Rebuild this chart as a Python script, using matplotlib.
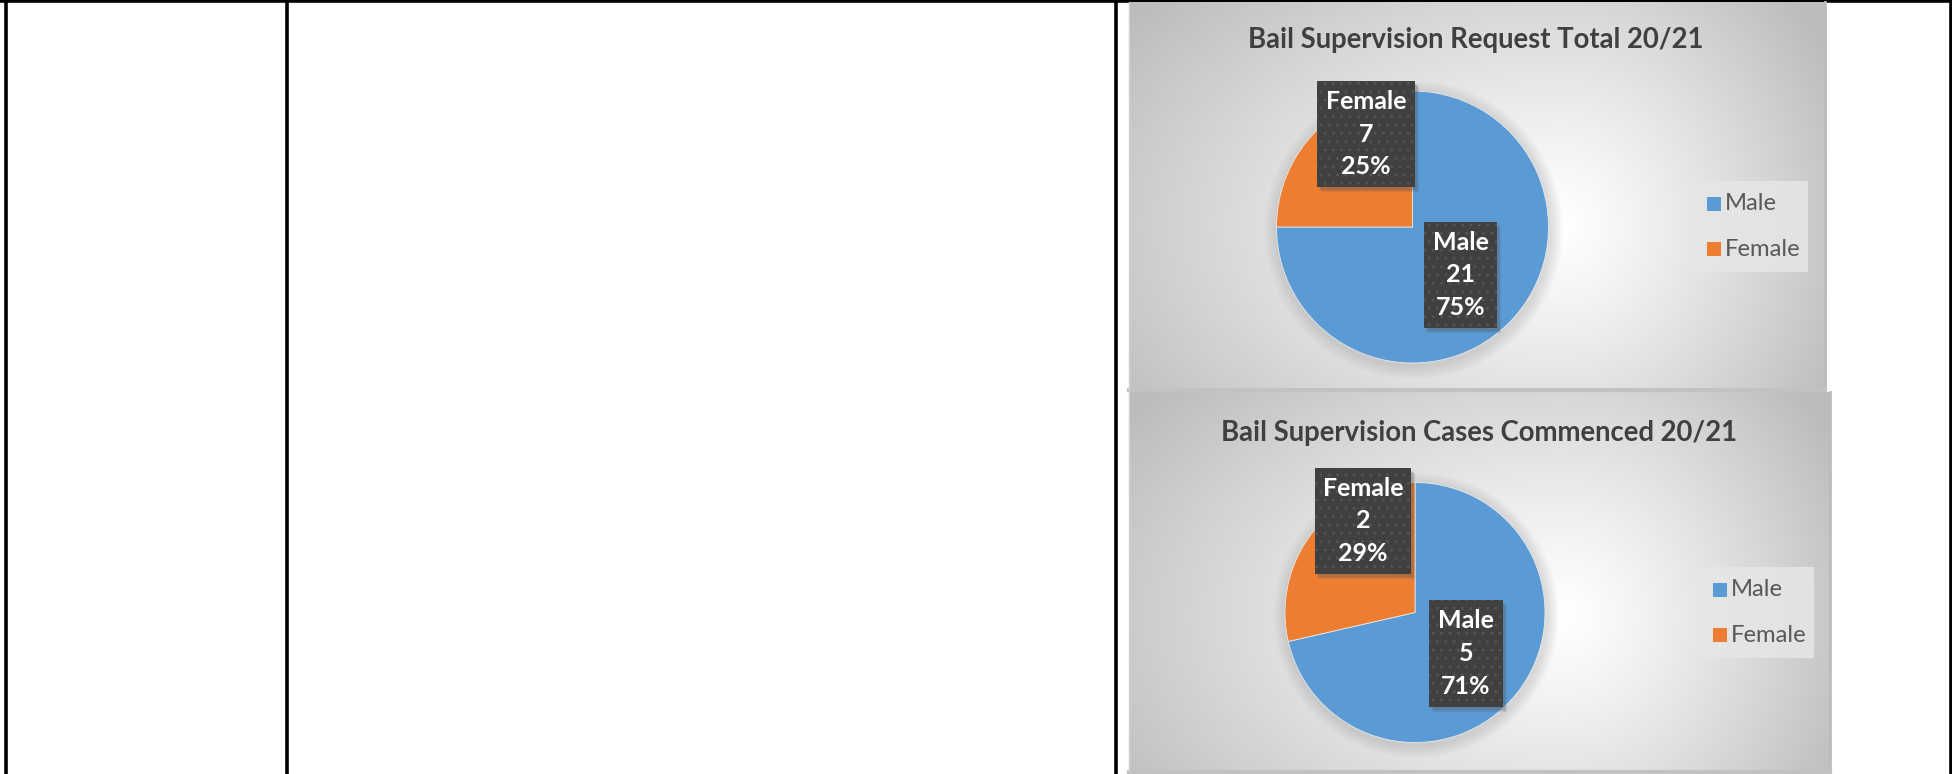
import numpy as np
import matplotlib
matplotlib.use("Agg")
import matplotlib.pyplot as plt
from matplotlib.patches import Rectangle, Ellipse

# ---- data ----
categories = ["Male", "Female"]
request_values = [21, 7]
commenced_values = [5, 2]
titles = ["Bail Supervision Request Total 20/21", "Bail Supervision Cases Commenced 20/21"]
colors = ["#5B9BD5", "#ED7D31"]

W, H = 1952, 774
fig = plt.figure(figsize=(W / 100, H / 100), dpi=100)
fig.patch.set_facecolor("white")

FONT = ["Lato", "DejaVu Sans"]

bg = fig.add_axes([0, 0, 1, 1])
bg.set_xlim(0, W)
bg.set_ylim(H, 0)
bg.axis("off")
bg.set_zorder(0)

# table lines
for x in [5.5, 287, 1116, 1950.5]:
    bg.plot([x, x], [0, H], color="black", lw=2.6, solid_capstyle="butt", zorder=1)
bg.plot([0, W], [1.2, 1.2], color="black", lw=2.6, zorder=1)


def fig_box(x0, y0, w, h):
    return [x0 / W, 1 - (y0 + h) / H, w / W, h / H]


def chart(box, glow, pie_c, pie_r, fem_box, male_box, leg_box, values, title, title_c):
    x0, y0, x1, y1 = box
    # radial gradient background
    nx, ny = 350, 200
    xs = np.linspace(x0, x1, nx)
    ys = np.linspace(y0, y1, ny)
    X, Y = np.meshgrid(xs, ys)
    rx = np.where(X < glow[0], 520, 300)
    t = np.sqrt(((X - glow[0]) / rx) ** 2 + ((Y - glow[1]) / 330) ** 2)
    t = np.clip(t, 0, 1.3)
    v = 1 - 0.25 * t ** 1.2
    v = np.clip(v, 0.74, 1)
    img = np.dstack([v, v, v])
    bg.imshow(img, extent=[x0, x1, y1, y0], interpolation="bilinear", zorder=2, aspect="auto")
    # box edge shadow
    bg.plot([x1, x1], [y0, y1], color="#bcbcbc", lw=2, zorder=3)
    bg.plot([x0, x1], [y1, y1], color="#c2c2c2", lw=3, zorder=3)
    bg.plot([x0, x0], [y0, y1], color="#d0d0d0", lw=1, zorder=3)

    # title
    bg.text(title_c[0], title_c[1], title, ha="center", va="center",
            fontsize=19.8, fontweight="bold", color="#404040", family=FONT, zorder=6)

    # soft pie shadow
    for k in range(8):
        grow = 1 + 0.012 * (8 - k)
        bg.add_patch(Ellipse((pie_c[0] + 1, pie_c[1] + 3), 2 * pie_r * grow, 2 * pie_r * grow,
                             facecolor="#9a9a9a", edgecolor="none", alpha=0.045, zorder=3))

    # pie
    pax = fig.add_axes(fig_box(pie_c[0] - pie_r, pie_c[1] - pie_r, 2 * pie_r, 2 * pie_r))
    pax.set_zorder(4)
    pax.patch.set_alpha(0)
    pax.pie(values, colors=colors, startangle=90, counterclock=False,
            wedgeprops=dict(linewidth=0.6, edgecolor="#e8e8e8"))
    pax.set_aspect("auto")
    pax.set_xlim(-1, 1)
    pax.set_ylim(-1, 1)
    pax.axis("off")

    # label boxes
    lax = fig.add_axes([0, 0, 1, 1])
    lax.set_xlim(0, W)
    lax.set_ylim(H, 0)
    lax.axis("off")
    lax.set_zorder(5)
    total = sum(values)
    for (bx, by, bw, bh), cat, val in zip([male_box, fem_box], categories, values):
        for k in range(3):
            lax.add_patch(Rectangle((bx + 2 + k, by + 3 + k), bw, bh, facecolor="#555555", alpha=0.15,
                                    edgecolor="none", zorder=1))
        lax.add_patch(Rectangle((bx, by), bw, bh, facecolor="#404040", edgecolor="none", zorder=2))
        lax.add_patch(Rectangle((bx, by), bw, bh, facecolor="none", edgecolor="#535353",
                                hatch="..", linewidth=0, zorder=3))
        lines = [cat, str(val), f"{100 * val / total:.0f}%"]
        for i, s in enumerate(lines):
            lax.text(bx + bw / 2, by + bh / 2 + (i - 1) * 32.5, s, ha="center", va="center",
                     fontsize=18, fontweight="bold", color="white", family=FONT, zorder=4)

    # legend
    lx, ly, lw_, lh = leg_box
    lax.add_patch(Rectangle((lx, ly), lw_, lh, facecolor="#e6e6e6", edgecolor="none", alpha=0.85, zorder=1))
    for i, (cat, col) in enumerate(zip(categories, colors)):
        yy = ly + 23 + i * 45
        lax.add_patch(Rectangle((lx + 13, yy - 7), 14, 14, facecolor=col, edgecolor="none", zorder=2))
        lax.text(lx + 31, yy, cat, ha="left", va="center", fontsize=17.2, color="#595959",
                 family=FONT, zorder=3)


chart((1129, 2, 1825, 390), (1560, 225), (1412.5, 227), 136,
      (1317, 81, 98, 106), (1424, 222, 73, 106), (1694, 181, 114, 91),
      request_values, titles[0], (1476, 40))
chart((1129, 392, 1830, 772), (1565, 615), (1415, 612.5), 130,
      (1315, 468, 96, 106), (1429, 600, 74, 107), (1700, 567, 114, 91),
      commenced_values, titles[1], (1479, 433))

fig.savefig("out.png", dpi=100, facecolor="white")
